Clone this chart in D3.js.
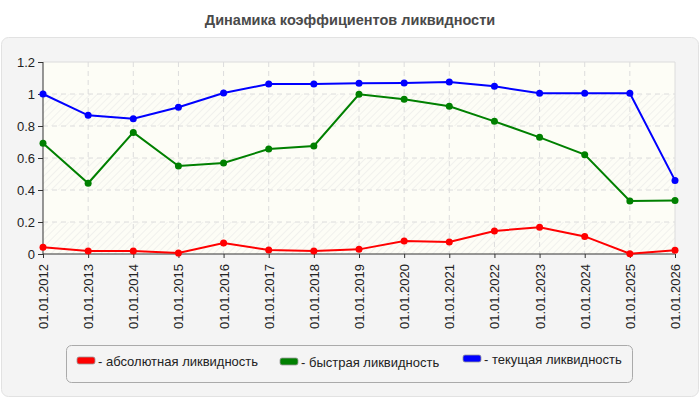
<!DOCTYPE html>
<html>
<head>
<meta charset="utf-8">
<script src="https://cdn.jsdelivr.net/npm/d3@7"></script>
<style>
  body { margin: 0; background: #fff; font-family: "Liberation Sans", Arial, sans-serif; }
</style>
</head>
<body>
<svg id="chart" width="700" height="400"></svg>
<script>
const years = d3.range(2012, 2027).map(y => `01.01.${y}`);
const absolute = [0.042, 0.019, 0.019, 0.006, 0.069, 0.025, 0.019, 0.029, 0.081, 0.075, 0.144, 0.167, 0.110, 0.002, 0.023];
const quick    = [0.692, 0.442, 0.760, 0.550, 0.569, 0.656, 0.675, 0.998, 0.967, 0.923, 0.829, 0.729, 0.621, 0.331, 0.335];
const current  = [1.000, 0.867, 0.845, 0.917, 1.006, 1.062, 1.062, 1.067, 1.069, 1.075, 1.048, 1.004, 1.004, 1.004, 0.460];
const yTicks = [0, 0.2, 0.4, 0.6, 0.8, 1, 1.2];

const series = [
  {name: "- абсолютная ликвидность", values: absolute, color: "#ff0000"},
  {name: "- быстрая ликвидность", values: quick, color: "#008000"},
  {name: "- текущая ликвидность", values: current, color: "#0000ff"}
];

const svg = d3.select("#chart");
const margin = {left: 43, right: 25, top: 62, bottom: 146};
const W = 700, H = 400;

// заголовок
svg.append("text")
  .attr("x", 350).attr("y", 25)
  .attr("text-anchor", "middle")
  .attr("font-size", 14.5).attr("font-weight", "bold")
  .attr("fill", "#4a4a4a")
  .text("Динамика коэффициентов ликвидности");

// панель
svg.append("rect")
  .attr("x", 1.5).attr("y", 37.5).attr("width", 697).attr("height", 359).attr("rx", 7)
  .attr("fill", "#f4f4f4").attr("stroke", "#e2e2e2");

const defs = svg.append("defs");
const pat = defs.append("pattern")
  .attr("id", "hatch").attr("patternUnits", "userSpaceOnUse")
  .attr("width", 5).attr("height", 5)
  .attr("patternTransform", "rotate(45)");
pat.append("rect").attr("width", 5).attr("height", 5).attr("fill", "#fdfdf6");
pat.append("line").attr("x1", 0).attr("y1", 0).attr("x2", 0).attr("y2", 5)
  .attr("stroke", "#eaeae8").attr("stroke-width", 1.2);

const x = d3.scalePoint().domain(years).range([margin.left, W - margin.right]);
const y = d3.scaleLinear().domain([0, 1.2]).range([H - margin.bottom, margin.top]);

const plot = svg.append("g");
plot.append("rect")
  .attr("x", margin.left).attr("y", margin.top)
  .attr("width", W - margin.right - margin.left).attr("height", y(0) - y(1.2))
  .attr("fill", "#fdfdf6");

// полосы
plot.selectAll("rect.band")
  .data(yTicks.slice(0, -1).filter((d, i) => i % 2 === 0))
  .join("rect").attr("class", "band")
  .attr("x", margin.left).attr("width", W - margin.right - margin.left)
  .attr("y", d => y(d + 0.2)).attr("height", d => y(d) - y(d + 0.2))
  .attr("fill", "url(#hatch)");

// сетка
plot.selectAll("line.hg").data(yTicks.slice(1))
  .join("line").attr("class", "hg")
  .attr("x1", margin.left).attr("x2", W - margin.right)
  .attr("y1", d => y(d)).attr("y2", d => y(d))
  .attr("stroke", "#dcdcdc").attr("stroke-dasharray", d => d === 1.2 ? null : "5,4");
plot.selectAll("line.vg").data(years.slice(1))
  .join("line").attr("class", "vg")
  .attr("x1", d => x(d)).attr("x2", d => x(d))
  .attr("y1", y(1.2)).attr("y2", y(0))
  .attr("stroke", "#dcdcdc").attr("stroke-dasharray", (d, i) => i === years.length - 2 ? null : "5,4");

// оси
const yAxis = svg.append("g")
  .attr("transform", `translate(${margin.left},0)`)
  .call(d3.axisLeft(y).tickValues(yTicks).tickSize(5).tickFormat(d3.format("~g")));
const xAxis = svg.append("g")
  .attr("transform", `translate(0,${y(0)})`)
  .call(d3.axisBottom(x).tickSize(4));
[yAxis, xAxis].forEach(a => {
  a.select(".domain").attr("stroke", "#333");
  a.selectAll(".tick line").attr("stroke", "#333");
  a.selectAll("text").attr("font-size", 13).attr("fill", "#222")
    .attr("font-family", "Liberation Sans, Arial, sans-serif");
});
yAxis.select(".domain").attr("d", `M0,${y(1.2)}V${y(0)}`);
xAxis.select(".domain").attr("d", `M${margin.left},0H${W - margin.right}`);
yAxis.selectAll("text").attr("x", -8);
xAxis.selectAll("text")
  .attr("transform", "rotate(-90)")
  .attr("text-anchor", "end")
  .attr("x", -10).attr("y", 0).attr("dy", "0.35em");

// линии
const line = d3.line().x((d, i) => x(years[i])).y(d => y(d));
series.forEach(s => {
  const g = svg.append("g");
  g.append("path").datum(s.values)
    .attr("d", line).attr("fill", "none")
    .attr("stroke", s.color).attr("stroke-width", 2);
  g.selectAll("circle").data(s.values).join("circle")
    .attr("cx", (d, i) => x(years[i])).attr("cy", d => y(d))
    .attr("r", 3.5).attr("fill", s.color);
});

// легенда
svg.append("rect")
  .attr("x", 66.5).attr("y", 345.5).attr("width", 566).attr("height", 37).attr("rx", 5)
  .attr("fill", "#f4f4f4").attr("stroke", "#aaa");
const legX = [77, 280, 463];
const legY = [357, 358, 355];
const leg = svg.selectAll("g.leg").data(series).join("g").attr("class", "leg")
  .attr("transform", (d, i) => `translate(${legX[i]},${legY[i]})`);
leg.append("rect").attr("width", 18).attr("height", 7).attr("rx", 2)
  .attr("fill", d => d.color).attr("stroke", "#999").attr("stroke-width", 0.8);
leg.append("text").attr("x", 21).attr("y", 4).attr("dy", "0.35em")
  .attr("font-size", 13).attr("fill", "#222")
  .text(d => d.name);
</script>
</body>
</html>
